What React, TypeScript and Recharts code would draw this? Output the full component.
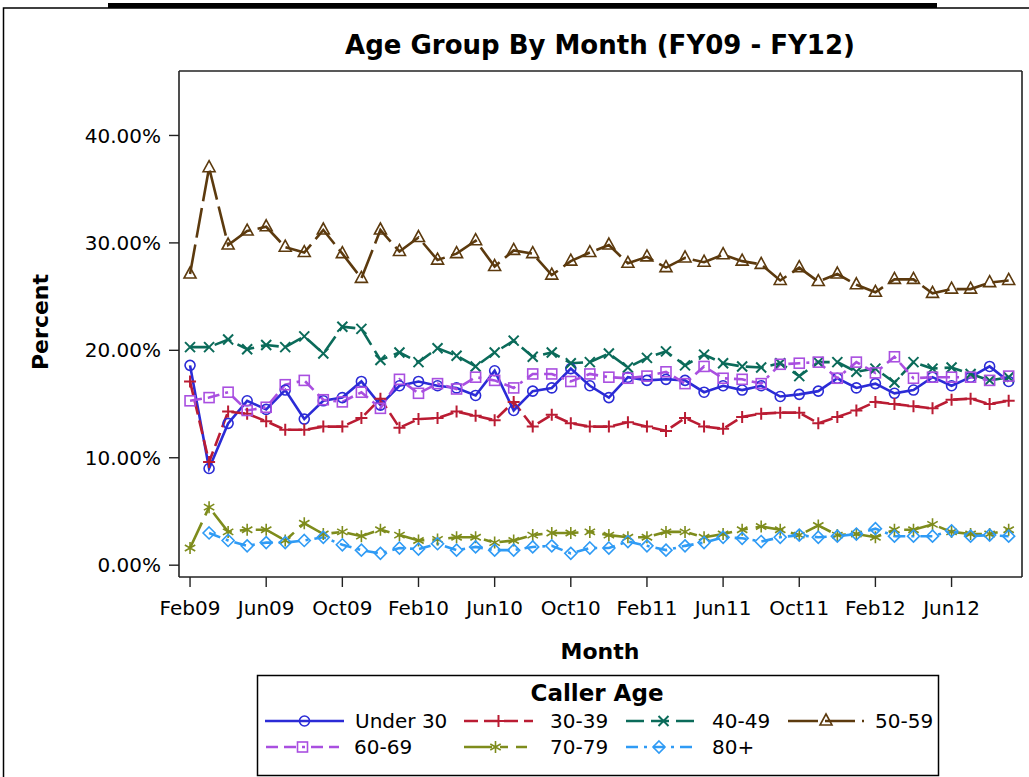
import React from "react"
import { LineChart, Line, XAxis, YAxis } from "recharts"

// month categories, Feb09 .. Sep12
const months = [
  "Feb09", "Mar09", "Apr09", "May09", "Jun09", "Jul09", "Aug09", "Sep09", "Oct09", "Nov09", "Dec09", "Jan10",
  "Feb10", "Mar10", "Apr10", "May10", "Jun10", "Jul10", "Aug10", "Sep10", "Oct10", "Nov10", "Dec10", "Jan11",
  "Feb11", "Mar11", "Apr11", "May11", "Jun11", "Jul11", "Aug11", "Sep11", "Oct11", "Nov11", "Dec11", "Jan12",
  "Feb12", "Mar12", "Apr12", "May12", "Jun12", "Jul12", "Aug12", "Sep12",
]
const xTicks = [0, 4, 8, 12, 16, 20, 24, 28, 32, 36, 40]
const yTicks = [0, 10, 20, 30, 40]

// percent of callers per month
const under30 = [18.6, 9.0, 13.2, 15.3, 14.5, 16.3, 13.6, 15.3, 15.6, 17.1, 14.9, 16.7, 17.1, 16.7, 16.5, 15.8, 18.1, 14.4, 16.2, 16.5, 18.3, 16.7, 15.6, 17.5, 17.2, 17.3, 17.2, 16.1, 16.7, 16.3, 16.7, 15.7, 15.9, 16.2, 17.4, 16.5, 16.9, 16.0, 16.3, 17.5, 16.7, 17.5, 18.5, 17.1]
const age30to39 = [17.1, 9.6, 14.3, 14.1, 13.4, 12.6, 12.6, 12.9, 12.9, 13.7, 15.5, 12.8, 13.6, 13.7, 14.3, 13.9, 13.5, 15.2, 12.9, 14.0, 13.2, 12.9, 12.9, 13.3, 12.9, 12.5, 13.7, 12.9, 12.7, 13.8, 14.1, 14.2, 14.2, 13.2, 13.8, 14.4, 15.2, 15.0, 14.8, 14.6, 15.4, 15.5, 15.0, 15.3]
const age40to49 = [20.3, 20.3, 21.0, 20.1, 20.5, 20.3, 21.3, 19.7, 22.2, 22.0, 19.1, 19.8, 18.9, 20.2, 19.5, 18.5, 19.8, 20.9, 19.4, 19.8, 18.8, 18.9, 19.7, 18.4, 19.3, 19.9, 18.6, 19.6, 18.8, 18.5, 18.4, 18.8, 17.6, 18.9, 18.9, 18.0, 18.3, 17.0, 18.9, 18.3, 18.4, 17.8, 17.2, 17.5]
const age50to59 = [27.1, 37.0, 29.8, 31.1, 31.5, 29.6, 29.1, 31.2, 29.0, 26.7, 31.2, 29.2, 30.5, 28.4, 29.0, 30.2, 27.8, 29.3, 29.0, 27.0, 28.3, 29.1, 29.8, 28.1, 28.7, 27.7, 28.6, 28.2, 28.9, 28.3, 28.0, 26.5, 27.7, 26.4, 27.1, 26.1, 25.4, 26.6, 26.6, 25.3, 25.7, 25.7, 26.3, 26.5]
const age60to69 = [15.3, 15.6, 16.1, 14.4, 14.7, 16.8, 17.2, 15.4, 15.2, 16.1, 14.6, 17.3, 16.0, 16.9, 16.4, 17.5, 17.2, 16.5, 17.8, 17.8, 17.1, 17.8, 17.5, 17.4, 17.6, 18.0, 16.9, 18.5, 17.4, 17.3, 16.9, 18.7, 18.8, 18.9, 17.4, 18.9, 17.9, 19.4, 17.4, 17.5, 17.5, 17.5, 17.2, 17.6]
const age70to79 = [1.6, 5.4, 3.1, 3.3, 3.3, 2.3, 3.9, 2.9, 3.1, 2.7, 3.3, 2.8, 2.3, 2.4, 2.6, 2.6, 2.1, 2.3, 2.8, 3.0, 3.0, 3.1, 2.8, 2.6, 2.6, 3.1, 3.1, 2.6, 2.9, 3.3, 3.6, 3.3, 2.8, 3.7, 2.8, 2.9, 2.6, 3.3, 3.3, 3.8, 3.1, 2.9, 2.9, 3.3]
const age80plus = [null, 3.0, 2.3, 1.8, 2.1, 2.1, 2.3, 2.6, 1.9, 1.4, 1.1, 1.6, 1.5, 2.0, 1.4, 1.7, 1.4, 1.4, 1.7, 1.8, 1.1, 1.6, 1.6, 2.2, 1.8, 1.4, 1.8, 2.1, 2.6, 2.5, 2.2, 2.6, 2.8, 2.6, 2.7, 2.9, 3.4, 2.7, 2.7, 2.7, 3.2, 2.7, 2.8, 2.7]

const rows = months.map((m, i) => ({
  idx: i,
  month: m,
  u30: under30[i],
  a30: age30to39[i],
  a40: age40to49[i],
  a50: age50to59[i],
  a60: age60to69[i],
  a70: age70to79[i],
  a80: age80plus[i],
}))

type Kind = "circle" | "plus" | "x" | "triangle" | "square" | "star" | "diamond"

const series: { key: string; name: string; color: string; kind: Kind; dash?: string }[] = [
  { key: "u30", name: "Under 30", color: "#2B2BD6", kind: "circle" },
  { key: "a30", name: "30-39", color: "#BA1C33", kind: "plus", dash: "14 6" },
  { key: "a40", name: "40-49", color: "#0B6B5A", kind: "x", dash: "18 7" },
  { key: "a50", name: "50-59", color: "#5C3A0E", kind: "triangle", dash: "30 7" },
  { key: "a60", name: "60-69", color: "#A94FE0", kind: "square", dash: "12 6 12 6 3 6" },
  { key: "a70", name: "70-79", color: "#7E8C1C", kind: "star", dash: "28 8 8 8" },
  { key: "a80", name: "80+", color: "#2F9BF5", kind: "diamond", dash: "12 6 3 6" },
]

function Marker({ cx, cy, kind, color }: { cx: number; cy: number; kind: Kind; color: string }) {
  const sw = 1.6
  switch (kind) {
    case "circle":
      return <circle cx={cx} cy={cy} r={5} fill="none" stroke={color} strokeWidth={sw} />
    case "plus":
      return <path d={`M${cx - 6} ${cy}H${cx + 6}M${cx} ${cy - 6}V${cy + 6}`} stroke={color} strokeWidth={2} fill="none" />
    case "x":
      return <path d={`M${cx - 5} ${cy - 5}L${cx + 5} ${cy + 5}M${cx - 5} ${cy + 5}L${cx + 5} ${cy - 5}`} stroke={color} strokeWidth={2} fill="none" />
    case "triangle":
      return <path d={`M${cx} ${cy - 7}L${cx + 6} ${cy + 4}L${cx - 6} ${cy + 4}Z`} stroke={color} strokeWidth={sw} fill="none" />
    case "square":
      return <rect x={cx - 5} y={cy - 5} width={10} height={10} stroke={color} strokeWidth={sw} fill="none" />
    case "star":
      return (
        <path
          d={`M${cx} ${cy - 6}V${cy + 6}M${cx - 5.2} ${cy - 3}L${cx + 5.2} ${cy + 3}M${cx - 5.2} ${cy + 3}L${cx + 5.2} ${cy - 3}`}
          stroke={color}
          strokeWidth={1.6}
          fill="none"
        />
      )
    case "diamond":
      return <path d={`M${cx} ${cy - 6}L${cx + 6} ${cy}L${cx} ${cy + 6}L${cx - 6} ${cy}Z`} stroke={color} strokeWidth={sw} fill="none" />
  }
  return null
}

const legendRows = [
  [
    { s: 0, x1: 265, x2: 344, tx: 355 },
    { s: 1, x1: 464, x2: 533, tx: 550 },
    { s: 2, x1: 626, x2: 701, tx: 712 },
    { s: 3, x1: 788, x2: 864, tx: 875 },
  ],
  [
    { s: 4, x1: 266, x2: 339, tx: 354 },
    { s: 5, x1: 464, x2: 527, tx: 550 },
    { s: 6, x1: 626, x2: 692, tx: 712 },
  ],
]

const font = "'DejaVu Sans', Verdana, sans-serif"

export default function App() {
  return (
    <div style={{ position: "absolute", left: 0, top: 0, width: 1029, height: 777, overflow: "hidden", background: "#fff", fontFamily: font }}>
      <LineChart width={1029} height={777} data={rows} margin={{ top: 70, right: 6, bottom: 160, left: 0 }}>
        <XAxis
          dataKey="idx"
          type="number"
          domain={[-0.58, 43.7]}
          ticks={xTicks}
          tickFormatter={(v: number) => months[v]}
          height={40}
          tickSize={10}
          tickMargin={14}
          stroke="#222"
          axisLine={{ strokeWidth: 1.6 }}
          tickLine={{ strokeWidth: 1.4 }}
          tick={{ fontSize: 20, fill: "#000", fontFamily: font }}
          allowDataOverflow
        />
        <XAxis xAxisId="top" orientation="top" dataKey="idx" type="number" domain={[-0.58, 43.7]} height={1} tick={false} tickLine={false} stroke="#222" axisLine={{ strokeWidth: 1.6 }} />
        <YAxis
          type="number"
          domain={[-1.1, 46]}
          ticks={yTicks}
          tickFormatter={(v: number) => `${v.toFixed(2)}%`}
          width={179}
          tickSize={10}
          tickMargin={8}
          stroke="#222"
          axisLine={{ strokeWidth: 1.6 }}
          tickLine={{ strokeWidth: 1.4 }}
          tick={{ fontSize: 20, fill: "#000", fontFamily: font }}
          allowDataOverflow
        />
        <YAxis yAxisId="right" orientation="right" domain={[-1.1, 46]} width={1} tick={false} tickLine={false} stroke="#222" axisLine={{ strokeWidth: 1.6 }} />
        {series.map((s) => (
          <Line
            key={s.key}
            type="linear"
            dataKey={s.key}
            name={s.name}
            stroke={s.color}
            strokeWidth={2.6}
            strokeDasharray={s.dash}
            connectNulls={false}
            isAnimationActive={false}
            dot={(p: any) =>
              p.cx == null || p.cy == null || p.value == null ? (
                <g key={`${s.key}-${p.index}`} />
              ) : (
                <Marker key={`${s.key}-${p.index}`} cx={p.cx} cy={p.cy} kind={s.kind} color={s.color} />
              )
            }
            activeDot={false}
          />
        ))}
      </LineChart>

      <svg width={1029} height={777} style={{ position: "absolute", left: 0, top: 0, pointerEvents: "none" }}>
        <rect x={108} y={3} width={829} height={5} fill="#000" />
        <rect x={3.5} y={8} width={1040} height={800} fill="none" stroke="#000" strokeWidth={1.5} />
        <text x={600} y={54} textAnchor="middle" fontFamily={font} fontWeight="bold" fontSize={26} fill="#000">
          Age Group By Month (FY09 - FY12)
        </text>
        <text transform="translate(48,322) rotate(-90)" textAnchor="middle" fontFamily={font} fontWeight="bold" fontSize={22} fill="#000">
          Percent
        </text>
        <text x={600} y={659} textAnchor="middle" fontFamily={font} fontWeight="bold" fontSize={22} fill="#000">
          Month
        </text>
        <rect x={257.5} y={675.5} width={681} height={100} fill="none" stroke="#000" strokeWidth={1.5} />
        <text x={597} y={701} textAnchor="middle" fontFamily={font} fontWeight="bold" fontSize={23} fill="#000">
          Caller Age
        </text>
        {legendRows.map((row, r) =>
          row.map((it) => {
            const s = series[it.s]
            const y = r === 0 ? 721 : 747
            return (
              <g key={s.key}>
                <line x1={it.x1} x2={it.x2} y1={y} y2={y} stroke={s.color} strokeWidth={2.6} strokeDasharray={s.dash} />
                <Marker cx={(it.x1 + it.x2) / 2} cy={y} kind={s.kind} color={s.color} />
                <text x={it.tx} y={y + 7} fontFamily={font} fontSize={20} fill="#000">
                  {s.name}
                </text>
              </g>
            )
          })
        )}
      </svg>
    </div>
  )
}
